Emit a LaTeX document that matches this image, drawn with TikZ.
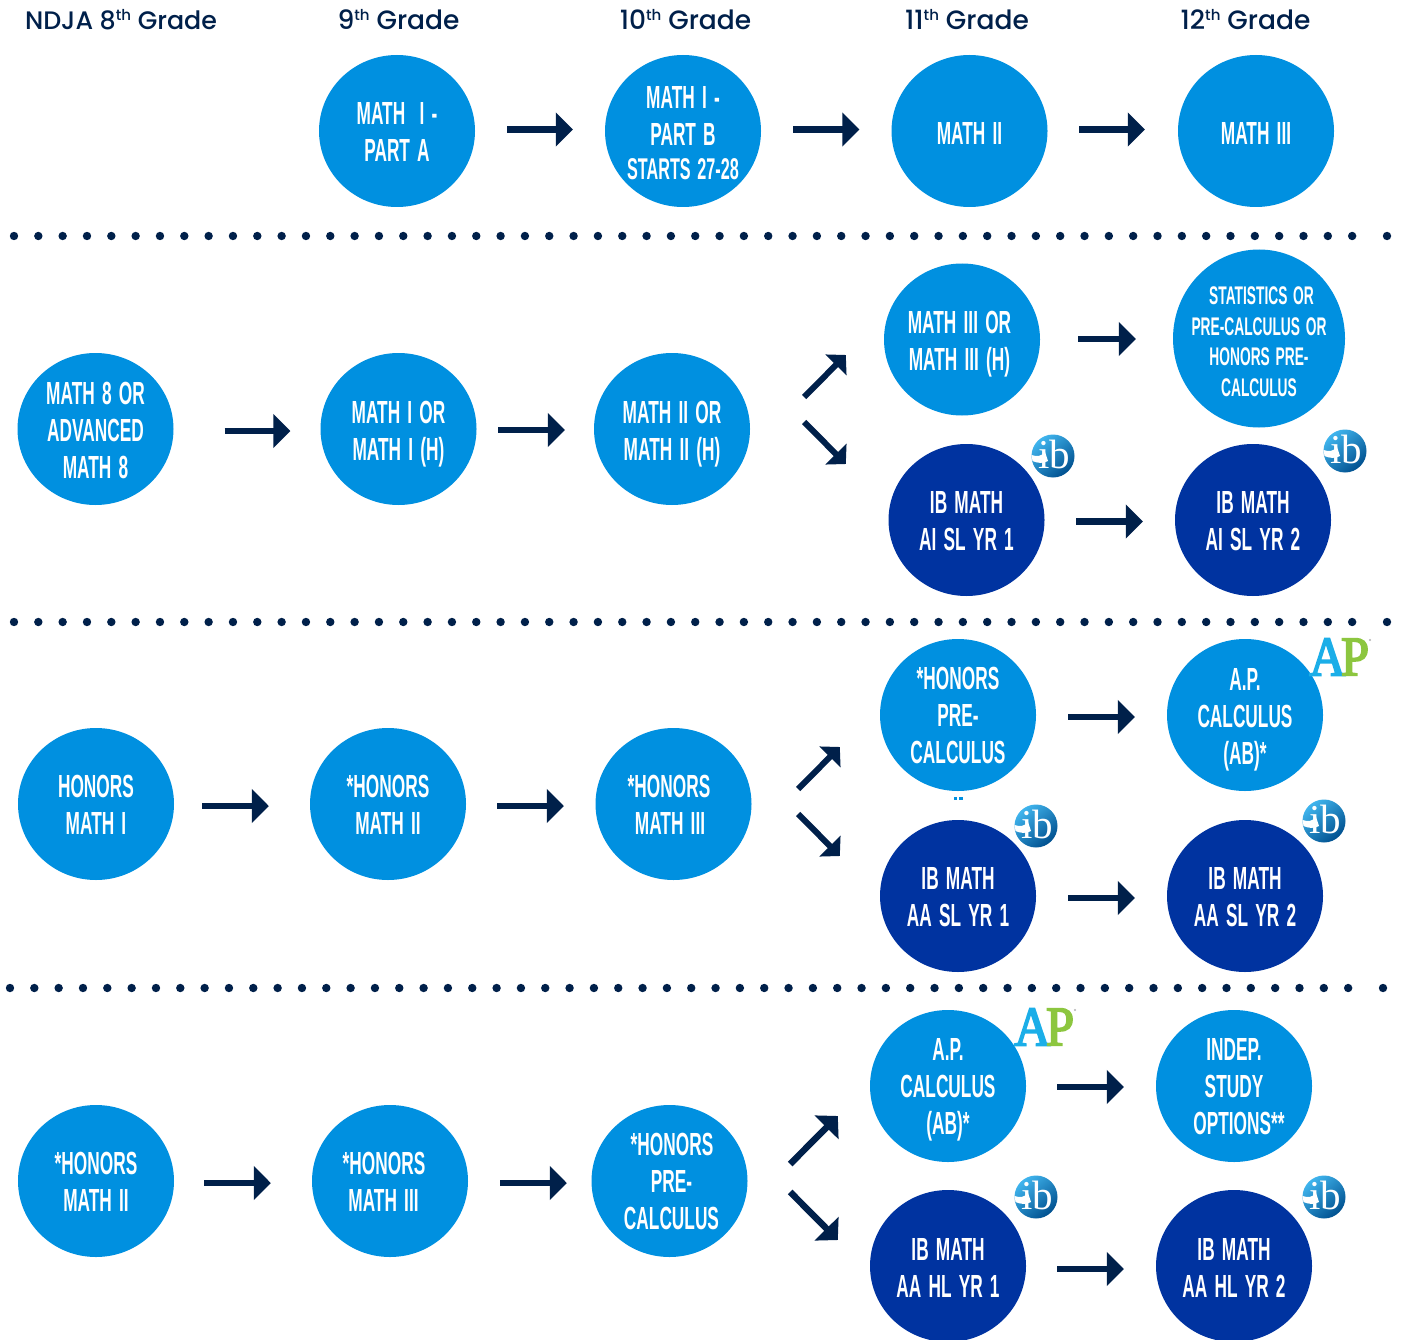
\documentclass[tikz,border=0pt]{standalone}
\usepackage{fontspec}
\usetikzlibrary{arrows.meta,shapes.geometric}
\newfontfamily\narrowf[FakeStretch=0.54,WordSpace=1.5]{Liberation Sans}
\newfontfamily\headf{Poppins Medium}
\newfontfamily\logof{Liberation Serif}
\newfontfamily\aplogof[FakeStretch=0.9,FakeBold=3]{Liberation Serif}
\definecolor{lightc}{HTML}{0090E0}
\definecolor{darkc}{HTML}{0033A0}
\definecolor{navy}{HTML}{00204A}
\definecolor{apblue}{HTML}{1BAEE8}
\definecolor{apgreen}{HTML}{8CC63F}
\definecolor{ibtop}{HTML}{40B5EE}
\definecolor{ibbot}{HTML}{00508F}
\def\tdnv{0}
\newcommand{\st}{\rule[-7pt]{0pt}{\dimexpr38pt+\tdnv pt*2\relax}}
\newcommand{\en}{\rule[-7pt]{0pt}{20pt}}
\tikzset{
  x=1pt,y=-1pt,
  dn/.code={\def\tdnv{#1}},
  course/.style={ellipse,inner xsep=-30pt,inner ysep=-20pt,minimum width=156pt,minimum height=152pt,align=center,text=white,
     font=\narrowf\bfseries\fontsize{32}{37}\selectfont},
  lightnode/.style={course,fill=lightc},
  darknode/.style={course,fill=darkc},
  flow/.style={draw=navy,line width=6.5pt,-{Triangle[length=17pt,width=33pt,fill=navy]}},
  diag/.style={draw=navy,line width=6pt,-{Triangle[length=14pt,width=29pt,fill=navy]}},
  diagbig/.style={draw=navy,line width=6.5pt,-{Triangle[length=16pt,width=33pt,fill=navy]}},
  gradehead/.style={text=navy,anchor=base,font=\headf\fontsize{26.5}{30}\selectfont},
  dotmark/.style={fill=navy},
  ibglobe/.style={circle,inner sep=0pt,minimum size=43pt,top color=ibtop,bottom color=ibbot,shading angle=40},
  ibtext/.style={text=white,inner sep=0pt,font=\logof\fontsize{41}{41}\selectfont},
  apletter/.style={inner sep=0pt,font=\aplogof\fontsize{56}{56}\selectfont},
}
\newcommand{\thg}[1]{#1\raisebox{9pt}{\fontsize{15}{15}\selectfont th} Grade}
\newcommand{\dotrow}[2]{%
  \foreach \n in {0,...,55}{\fill[dotmark] ({#1+24.33*\n},#2) circle (4.2pt);}
  \fill[dotmark] ({#1+1373},#2) circle (4.2pt);}
\newcommand{\iblogo}[3]{%
  \node[ibglobe] (#1) at (#2,#3) {};
  \fill[white] ([shift={(-21.5,-1)}]#1.center) .. controls ([shift={(-16,1)}]#1.center) and ([shift={(-11,0)}]#1.center) .. ([shift={(-8,-4)}]#1.center) -- ([shift={(-5,5)}]#1.center) .. controls ([shift={(-10,8)}]#1.center) and ([shift={(-16,7)}]#1.center) .. ([shift={(-20.5,5)}]#1.center) -- cycle;
  \node[ibtext] at ([shift={(1,-2)}]#1.center) {ib};}
\newcommand{\aplogo}[3]{%
  \node[apletter,text=apblue] (#1a) at (#2-15.5,#3) {A};
  \node[apletter,text=apgreen] (#1p) at (#2+12,#3) {P};
  \fill[gray!60] (#2+27,#3-17) circle (1.2pt);}
\newcommand{\sh}[1]{\hspace*{#1pt}}
\begin{document}
\begin{tikzpicture}
\useasboundingbox[fill=white] (0,0) rectangle (1402,1340);
\clip (0,0) rectangle (1402,1340);

% headings
\node[gradehead,font=\headf\fontsize{25.3}{30}\selectfont] (h8)  at (121,30) {NDJA \thg{8}};
\node[gradehead] (h9)  at (398.5,30) {\thg{9}};
\node[gradehead] (h10) at (685.5,30) {\thg{10}};
\node[gradehead] (h11) at (967,30) {\thg{11}};
\node[gradehead] (h12) at (1245.5,30) {\thg{12}};

% separators
\dotrow{14}{236}
\dotrow{14}{622}
\dotrow{10}{988}

% row 1
\node[lightnode,dn=0.5] (a1) at (397,131) {\st MATH\ \ I -\\PART A\en};
\node[lightnode,dn=1] (a2) at (683,131) {\st MATH I -\\PART B\\[-3pt]{\fontsize{30}{33}\selectfont STARTS 27-28}\en};
\node[lightnode,dn=2] (a3) at (969.5,131) {\st MATH II\en};
\node[lightnode,dn=2] (a4) at (1256,131) {\st MATH III\en};
\draw[flow] ([shift={(32,-1.5)}]a1.east) -- ([shift={(-32,-1.5)}]a2.west);
\draw[flow] ([shift={(32,-1.5)}]a2.east) -- ([shift={(-32,-1.5)}]a3.west);
\draw[flow] ([shift={(31.5,-1.5)}]a3.east) -- ([shift={(-33,-1.5)}]a4.west);

% row 2
\node[lightnode,dn=0.5] (b1) at (95.5,429) {\st MATH 8 OR\\ADVANCED\\MATH 8\en};
\node[lightnode,dn=0.5] (b2) at (398.5,429) {\st MATH I OR\\MATH I (H)\en};
\node[lightnode,dn=0.5] (b3) at (672,429) {\st MATH II OR\\MATH II (H)\en};
\node[lightnode,dn=0] (b4) at (962,339.5) {\st\sh{-5}MATH III OR\\\sh{-5}MATH III (H)\en};
\node[lightnode,dn=0,minimum width=172pt,minimum height=178pt,font=\narrowf\bfseries\fontsize{25.5}{30.5}\selectfont] (b5) at (1259,338.5) {\st\sh{5}STATISTICS OR\\PRE-CALCULUS OR\\HONORS PRE-\\CALCULUS\en};
\node[darknode,dn=0] (b6) at (966.5,520) {\st IB MATH\\AI SL YR 1\en};
\node[darknode,dn=0] (b7) at (1253,520) {\st IB MATH\\AI SL YR 2\en};
\draw[flow] ([shift={(51,2)}]b1.east) -- ([shift={(-30,2)}]b2.west);
\draw[flow] ([shift={(21.5,1)}]b2.east) -- ([shift={(-29,1)}]b3.west);
\draw[diag] ([shift={(54,-32)}]b3.east) -- ([shift={(-38,15.5)}]b4.west);
\draw[diag] ([shift={(54,-7)}]b3.east) -- ([shift={(-42.5,-56)}]b6.west);
\draw[flow] ([shift={(38,-0.5)}]b4.east) -- ([shift={(-37,0.5)}]b5.west);
\draw[flow] ([shift={(31.5,1.5)}]b6.east) -- ([shift={(-32,1.5)}]b7.west);

% row 3
\node[lightnode,dn=0] (c1) at (96,804) {\st HONORS\\MATH I\en};
\node[lightnode,dn=0] (c2) at (388,804) {\st *HONORS\\MATH II\en};
\node[lightnode,dn=0] (c3) at (673.5,804) {\st\sh{-9}*HONORS\\\sh{-7}MATH III\en};
\node[lightnode,dn=-0.5] (c4) at (958,715) {\st *HONORS\\PRE-\\CALCULUS\en};
\node[lightnode,dn=0] (c5) at (1245,715) {\st A.P.\\CALCULUS\\(AB)*\en};
\node[darknode,dn=0] (c6) at (958,896) {\st IB MATH\\AA SL YR 1\en};
\node[darknode,dn=0] (c7) at (1245,896) {\st IB MATH\\AA SL YR 2\en};
\draw[flow] ([shift={(28,2)}]c1.east) -- ([shift={(-41,2)}]c2.west);
\draw[flow] ([shift={(31,2)}]c2.east) -- ([shift={(-31.5,2)}]c3.west);
\draw[diag] ([shift={(46.5,-15)}]c3.east) -- ([shift={(-40,32)}]c4.west);
\draw[diag] ([shift={(46.5,10)}]c3.east) -- ([shift={(-40,-40)}]c6.west);
\draw[flow] ([shift={(32,2)}]c4.east) -- ([shift={(-32,2)}]c5.west);
\draw[flow] ([shift={(32,2)}]c6.east) -- ([shift={(-32,2)}]c7.west);
\fill[lightc] (953.5,797) rectangle (956.7,800.3);
\fill[lightc] (959,797) rectangle (962.5,800.3);

% row 4
\node[lightnode,dn=0] (d1) at (96,1181) {\st *HONORS\\MATH II\en};
\node[lightnode,dn=0] (d2) at (390,1181) {\st\sh{-12}*HONORS\\\sh{-13}MATH III\en};
\node[lightnode,dn=-0.5] (d3) at (669.5,1181) {\st\sh{5}*HONORS\\\sh{4}PRE-\\\sh{4}CALCULUS\en};
\node[lightnode,dn=-1] (d4) at (948,1086) {\st A.P.\\CALCULUS\\(AB)*\en};
\node[lightnode,dn=-0.5] (d5) at (1234,1086) {\st INDEP.\\STUDY\\\sh{10}OPTIONS**\en};
\node[darknode,dn=1] (d6) at (948,1266) {\st IB MATH\\AA HL YR 1\en};
\node[darknode,dn=1] (d7) at (1234,1266) {\st IB MATH\\AA HL YR 2\en};
\draw[flow] ([shift={(30,2)}]d1.east) -- ([shift={(-41,2)}]d2.west);
\draw[flow] ([shift={(32,2)}]d2.east) -- ([shift={(-24.5,2)}]d3.west);
\draw[diagbig] ([shift={(42.5,-17)}]d3.east) -- ([shift={(-32,30)}]d4.west);
\draw[diagbig] ([shift={(42.5,11)}]d3.east) -- ([shift={(-32,-26)}]d6.west);
\draw[flow] ([shift={(31,1)}]d4.east) -- ([shift={(-32,1)}]d5.west);
\draw[flow] ([shift={(31,3)}]d6.east) -- ([shift={(-32,3)}]d7.west);

% logos
\iblogo{ib1}{1053}{456}
\iblogo{ib2}{1345}{451}
\iblogo{ib3}{1036}{826}
\iblogo{ib4}{1324}{821}
\iblogo{ib5}{1036}{1197}
\iblogo{ib6}{1324}{1197}
\aplogo{ap1}{1343}{657}
\aplogo{ap2}{1048}{1027}
\end{tikzpicture}
\end{document}
